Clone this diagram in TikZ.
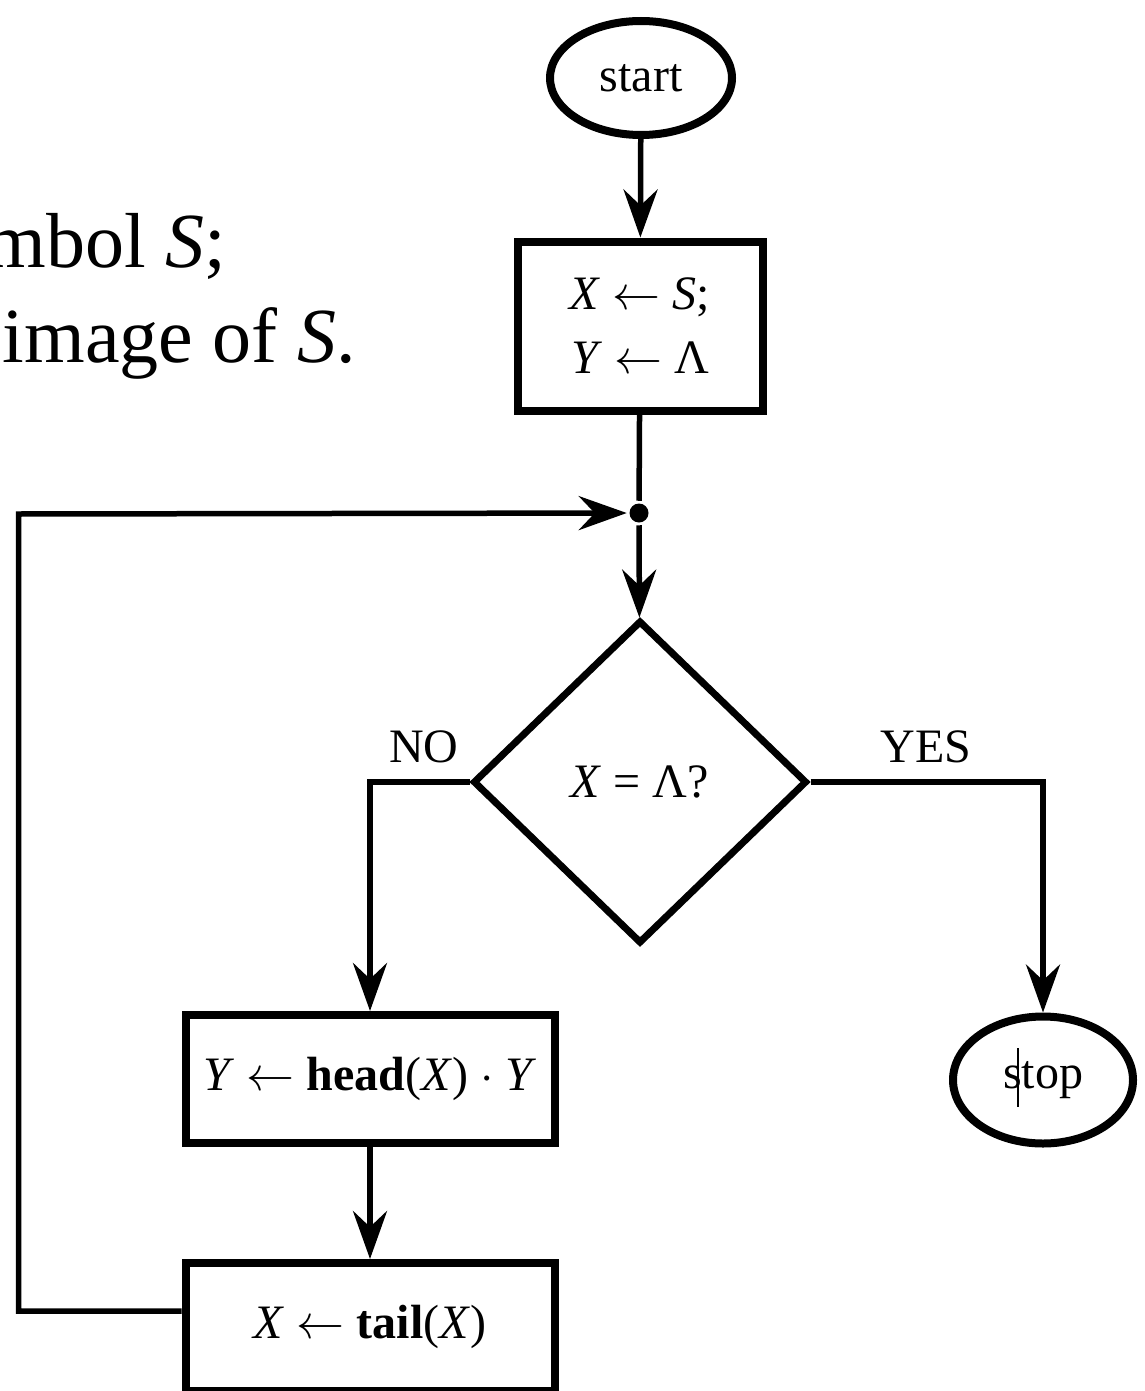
\documentclass[tikz,border=0pt]{standalone}
\usepackage{fix-cm}
\usepackage{fontspec}
\setmainfont{Liberation Serif}
\usetikzlibrary{arrows.meta,shapes.geometric}

\begin{document}
\begin{tikzpicture}[x=1pt,y=-1pt,line width=5.5pt,
  >={Stealth[length=48pt,width=34pt,inset=16pt]},
  chart/.style={font=\fontsize{48}{64}\selectfont},
  terminal/.style={chart,draw,ellipse,line width=8pt,inner sep=0pt},
  stepbox/.style={chart,draw,rectangle,line width=8pt,inner sep=0pt,align=center},
  decision/.style={chart,draw,diamond,line width=7pt,inner sep=0pt},
  branch/.style={chart,anchor=base,inner sep=0pt}]
\path[use as bounding box] (0,0) rectangle (1144,1391);
\begin{scope}
\clip (0,0) rectangle (1144,1391);
\node[anchor=base west,inner sep=0pt,font=\fontsize{78}{95}\selectfont] (line1) at (-17,267) {mbol \textit{S};};
\node[anchor=base west,inner sep=0pt,font=\fontsize{78}{95}\selectfont] (line2) at (0,362) {image of \textit{S}.};
\end{scope}
\node[terminal,minimum width=182,minimum height=114] (start) at (641,78) {start};
\node[stepbox,minimum width=245,minimum height=169] (init) at (640,326) {\textit{X} $\leftarrow$ \textit{S};\\\textit{Y} $\leftarrow$ Λ};
\node[circle,fill,inner sep=0pt,minimum size=19] (junc) at (639,513) {};
\node[decision,minimum width=334,minimum height=323] (test) at (640,782) {\textit{X} = Λ?};
\node[stepbox,minimum width=369,minimum height=128] (push) at (370,1079) {\textit{Y} $\leftarrow$ \textbf{head}(\textit{X}) $\cdot$ \textit{Y}};
\node[stepbox,minimum width=369,minimum height=128] (pop) at (370,1327) {\textit{X} $\leftarrow$ \textbf{tail}(\textit{X})};
\node[terminal,minimum width=180,minimum height=127] (stop) at (1043,1080) {stop};
\draw[line width=1.2pt] (1018,1048) -- (1018,1107);
\node[branch] (no) at (424,762) {NO};
\node[branch] (yes) at (926,762) {YES};
\coordinate (corner) at (18.5,514);
\draw[->] (start) -- (init);
\draw (init) -- (junc);
\draw[->] (junc) -- (test);
\draw[->] (test.west) -| (push.north);
\draw[->] (test.east) -| (stop.north);
\draw[->] (push) -- (pop);
\draw[->] ([yshift=16pt]pop.west) -| (corner) -- (junc);
\end{tikzpicture}
\end{document}
